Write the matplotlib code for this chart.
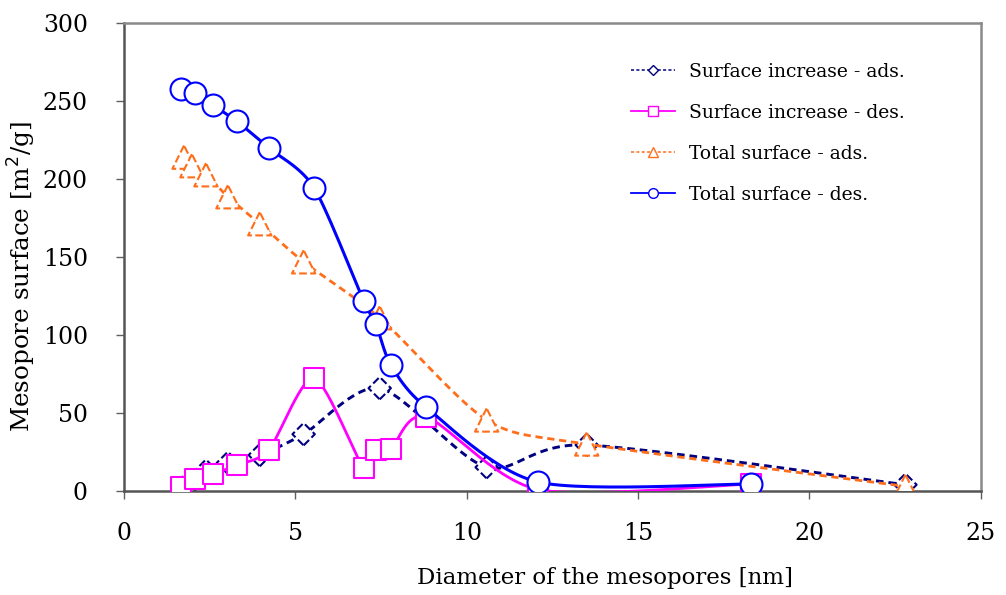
import numpy as np
import matplotlib
matplotlib.use("Agg")
import matplotlib.pyplot as plt
from matplotlib.lines import Line2D

# pore diameters [nm]
d_des = [1.65, 2.06, 2.59, 3.29, 4.22, 5.54, 6.99, 7.35, 7.78, 8.80, 12.07, 18.29]
d_ads = [1.75, 1.98, 2.39, 3.03, 3.96, 5.24, 7.46, 10.58, 13.5, 22.8]

# mesopore surface [m2/g]
inc_ads = [3, 5.5, 13, 18, 23, 36.4, 65.9, 15.2, 29.5, 4]
inc_des = [2.8, 8, 10.7, 16.7, 26.3, 72.3, 15, 26.3, 26.7, 47.7, 1, 4.5]
tot_ads = [214, 208.5, 202.7, 188.6, 171.3, 146.9, 111, 45.5, 30.1, 3]
tot_des = [258, 255, 247.5, 237, 220, 194.5, 122, 107, 81, 54, 5.8, 4.5]

labels = ["Surface increase - ads.", "Surface increase - des.",
          "Total surface - ads.", "Total surface - des."]


def smooth(x, y, n=30, k=7.5):
    # cubic bezier through the points, tangents from the neighbours
    p = np.column_stack([x, y]).astype(float)
    pad = np.vstack([p[0], p, p[-1]])
    t = np.linspace(0, 1, n)[:, None]
    segs = []
    for i in range(len(p) - 1):
        p0, p1, p2, p3 = pad[i:i + 4]
        c1 = p1 + (p2 - p0) / k
        c2 = p2 - (p3 - p1) / k
        segs.append((1 - t) ** 3 * p1 + 3 * (1 - t) ** 2 * t * c1
                    + 3 * (1 - t) * t ** 2 * c2 + t ** 3 * p2)
    s = np.vstack(segs)
    return s[:, 0], s[:, 1]


plt.rcParams['font.family'] = ['DejaVu Serif']

fig = plt.figure(figsize=(10.06, 5.95), dpi=100)
ax = fig.add_axes([0.1233, 0.1748, 0.8517, 0.7865])

navy = '#000080'
mag = '#FF00FF'
orange = '#FF6E1A'
blue = '#0000FF'

series = [
    (d_ads, inc_ads, navy, (0, (2.6, 1.7)), 'D', 130, '--', 2.1),
    (d_des, inc_des, mag, '-', 's', 218, '-', 2.0),
    (d_ads, tot_ads, orange, (0, (2.6, 1.7)), '^', 280, '--', 2.0),
    (d_des, tot_des, blue, '-', 'o', 250, '-', 2.2),
]

z = 2
for x, y, c, ls, m, s, mls, lw in series:
    sx, sy = smooth(x, y)
    ax.plot(sx, sy, color=c, lw=lw, ls=ls, zorder=z)
    ax.scatter(x, y, marker=m, s=s, facecolors='white', edgecolors=c,
               linewidths=1.5, linestyles=mls, zorder=z + 0.5)
    z += 1

ax.set_xlim(0, 25)
ax.set_ylim(0, 300)
ax.set_xticks(range(0, 26, 5))
ax.set_yticks(range(0, 301, 50))
ax.tick_params(direction='out', length=6, width=1, color='#606060',
               labelsize=17)
ax.tick_params(axis='x', pad=16)
ax.tick_params(axis='y', pad=20)

for side in ['left', 'bottom']:
    ax.spines[side].set_color('#555555')
    ax.spines[side].set_linewidth(1.8)
for side in ['top', 'right']:
    ax.spines[side].set_color('#8a8a8a')
    ax.spines[side].set_linewidth(1.8)

ax.set_xlabel("Diameter of the mesopores [nm]", fontsize=16.5)
ax.set_ylabel("Mesopore surface [m$^2$/g]", fontsize=17.7)
ax.xaxis.set_label_coords(0.561, -0.163)
ax.yaxis.set_label_coords(-0.1, 0.458)

handles = [
    Line2D([], [], color=navy, lw=1.1, ls=(0, (2, 1.5)), marker='D',
           markersize=5, markerfacecolor='white'),
    Line2D([], [], color=mag, lw=1.3, marker='s', markersize=7,
           markerfacecolor='white'),
    Line2D([], [], color=orange, lw=1.1, ls=(0, (2, 1.5)), marker='^',
           markersize=7, markerfacecolor='white'),
    Line2D([], [], color=blue, lw=1.3, marker='o', markersize=7,
           markerfacecolor='white'),
]
ax.legend(handles, labels, loc='upper left', bbox_to_anchor=(0.572, 0.951),
          frameon=False, fontsize=13.5, handlelength=2.35, handletextpad=0.75,
          labelspacing=1.23)

fig.savefig("out.png", dpi=100)
